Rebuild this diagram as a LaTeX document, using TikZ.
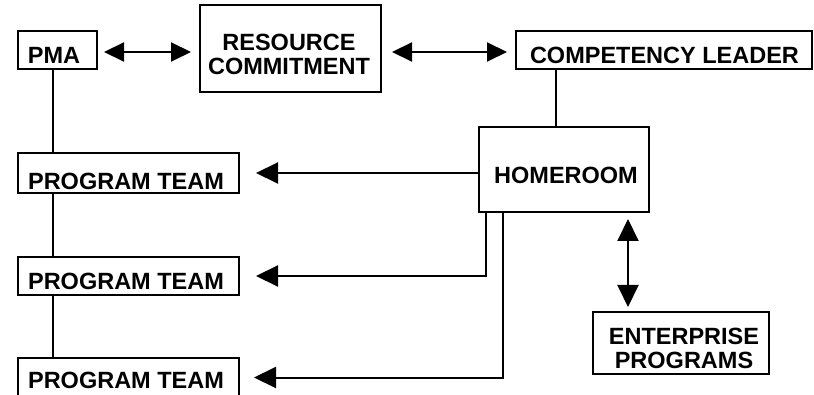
\documentclass[tikz,border=0pt]{standalone}
\usepackage{fontspec}
\setmainfont{Liberation Sans}
\usetikzlibrary{arrows.meta}
\begin{document}
\begin{tikzpicture}[x=1pt,y=-1pt,
  box/.style={draw, line width=2pt, inner sep=0pt},
  lbl/.style={inner sep=0pt, align=center, font=\bfseries\fontsize{23.5}{24}\selectfont},
  link/.style={line width=2pt},
  tipS/.tip={Triangle[length=20pt,width=19pt]},
  tipL/.tip={Triangle[length=22pt,width=21pt]},
  arr/.style={link, -tipL},
  dbl/.style={link, tipS-tipS},
  dblL/.style={link, tipL-tipL}]
\useasboundingbox (0,0) rectangle (814,395);

% boxes
\node[box, minimum width=79, minimum height=38]  (pma) at (57.5,50)   {};
\node[box, minimum width=181, minimum height=87] (rc)  at (290.5,48.5) {};
\node[box, minimum width=296, minimum height=38] (cl)  at (664,50)    {};
\node[box, minimum width=170, minimum height=85] (hr)  at (564,169.5) {};
\node[box, minimum width=221, minimum height=40] (pt1) at (128.5,173) {};
\node[box, minimum width=221, minimum height=38] (pt2) at (128.5,276) {};
\node[box, minimum width=221, minimum height=39] (pt3) at (128.5,377.5) {};
\node[box, minimum width=176, minimum height=62] (ep)  at (681,343)   {};

% labels
\node[lbl] (pmat) at (54,55)      {PMA};
\node[lbl] (rct)  at (289,54.25)  {RESOURCE\\COMMITMENT};
\node[lbl] (clt)  at (664.5,55)   {COMPETENCY LEADER};
\node[lbl] (hrt)  at (566,175)    {HOMEROOM};
\node[lbl] (pt1t) at (126,181)    {PROGRAM TEAM};
\node[lbl] (pt2t) at (126,281.5)  {PROGRAM TEAM};
\node[lbl] (pt3t) at (126,380.5)  {PROGRAM TEAM};
\node[lbl] (ept)  at (684,348.5)  {ENTERPRISE\\PROGRAMS};

% connectors
\draw[dbl, shorten <=6pt, shorten >=8pt] (pma.east |- 0,52) -- (rc.west |- 0,52);
\draw[dbl, shorten <=10pt, shorten >=8pt] (rc.east |- 0,52) -- (cl.west |- 0,52);
\draw[link] ([xshift=-108]cl.south) -- ([xshift=-108]cl.south |- hr.north);
\draw[link] ([xshift=-4.5]pma.south) -- ([xshift=-4.5]pma.south |- pt1.north);
\draw[link] ([xshift=-75.5]pt1.south) -- ([xshift=-75.5]pt2.north);
\draw[link] ([xshift=-75.5]pt2.south) -- ([xshift=-75.5]pt3.north);
\draw[arr, shorten >=16pt] (hr.west |- pt1.east) -- (pt1.east);
\draw[arr, shorten >=16pt] ([xshift=-78]hr.south) |- (pt2.east);
\draw[arr, shorten >=14pt] ([xshift=-61]hr.south) |- (pt3.east);
\draw[dblL, shorten <=6pt, shorten >=4pt] ([xshift=64]hr.south) -- ([xshift=64]hr.south |- ep.north);
\end{tikzpicture}
\end{document}
